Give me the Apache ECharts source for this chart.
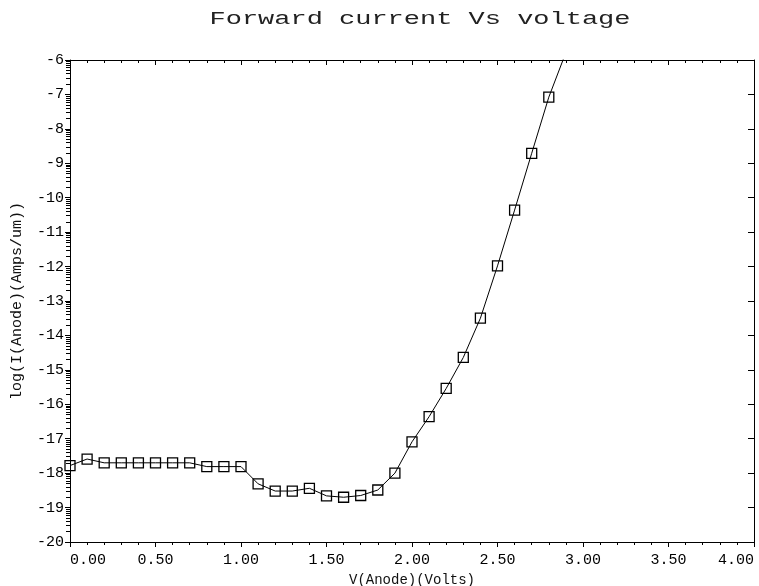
<!DOCTYPE html>
<html>
<head>
<meta charset="utf-8">
<script src="https://cdn.jsdelivr.net/npm/echarts@6/dist/echarts.min.js"></script>
<style>html,body{margin:0;padding:0;background:#fff;}#c{width:759px;height:586px;}</style>
</head>
<body>
<div id="c"></div>
<script>
// Data
const voltage = [0.0, 0.1, 0.2, 0.3, 0.4, 0.5, 0.6, 0.7, 0.8, 0.9,
                 1.0, 1.1, 1.2, 1.3, 1.4, 1.5, 1.6, 1.7, 1.8, 1.9,
                 2.0, 2.1, 2.2, 2.3, 2.4, 2.5, 2.6, 2.7, 2.8, 2.9];
const logCurrent = [-17.78, -17.59, -17.70, -17.70, -17.70, -17.70, -17.70, -17.70, -17.81, -17.81,
                    -17.81, -18.31, -18.52, -18.52, -18.44, -18.66, -18.70, -18.65, -18.49, -18.00,
                    -17.09, -16.36, -15.54, -14.64, -13.50, -11.98, -10.36, -8.71, -7.08, -5.78];
const titleText = 'Forward current Vs voltage';
const xName = 'V(Anode)(Volts)';
const yName = 'log(I(Anode)(Amps/um))';
const xMin = 0, xMax = 4, xStep = 0.5;
const yMin = -20, yMax = -6, yStep = 1;

const FONT = '"Liberation Mono", "DejaVu Sans Mono", monospace';

// log-style minor tick positions inside each decade
const logMinor = [];
for (let n = yMin; n < yMax; n++) {
  for (let k = 2; k <= 9; k++) logMinor.push(n + Math.log10(k));
}

const seriesData = voltage.map((v, i) => [v, logCurrent[i]]);

const chart = echarts.init(document.getElementById('c'), null, {renderer: 'canvas'});
const tickStyle = {color: '#000', width: 1};
const option = {
  backgroundColor: '#fff',
  animation: false,
  graphic: [{
    type: 'text',
    x: 420, y: 19,
    scaleX: 1.42,
    style: {
      text: titleText, x: 0, y: 0,
      align: 'center', verticalAlign: 'middle',
      font: 'normal 19px ' + FONT,
      fill: '#222'
    }
  }],
  grid: {left: 70, right: 5, top: 60, bottom: 44, containLabel: false, outerBoundsMode: 'none'},
  xAxis: [{
    type: 'value', position: 'bottom',
    min: xMin, max: xMax, interval: xStep,
    name: xName, nameLocation: 'middle', nameGap: 28,
    nameTextStyle: {fontFamily: FONT, fontSize: 14, color: '#111'},
    axisLine: {show: true, lineStyle: {color: '#000', width: 1}},
    axisTick: {show: true, inside: false, length: 5, lineStyle: tickStyle},
    minorTick: {show: true, splitNumber: 5, length: 3, lineStyle: tickStyle},
    axisLabel: {
      fontFamily: FONT, fontSize: 15, color: '#000', margin: 11,
      alignMinLabel: 'left', alignMaxLabel: 'right',
      formatter: v => v.toFixed(2)
    },
    splitLine: {show: false}
  }, {
    type: 'value', position: 'top',
    min: xMin, max: xMax, interval: xStep,
    axisLine: {show: true, lineStyle: {color: '#000', width: 1}},
    axisTick: {show: true, inside: true, length: 5, lineStyle: tickStyle},
    minorTick: {show: true, splitNumber: 5, length: 3, lineStyle: tickStyle},
    axisLabel: {show: false},
    splitLine: {show: false}
  }],
  yAxis: [{
    type: 'value', position: 'left',
    min: yMin, max: yMax, interval: yStep,
    name: yName, nameLocation: 'middle', nameGap: 45, nameRotate: 90,
    nameTextStyle: {fontFamily: FONT, fontSize: 15, color: '#111'},
    axisLine: {show: true, onZero: false, lineStyle: {color: '#000', width: 1}},
    axisTick: {show: true, inside: false, length: 5, lineStyle: tickStyle},
    axisLabel: {fontFamily: FONT, fontSize: 15, color: '#000', margin: 6,
      formatter: v => String(Math.round(v))},
    splitLine: {show: false}
  }, {
    type: 'value', position: 'right',
    min: yMin, max: yMax, interval: yStep,
    axisLine: {show: true, onZero: false, lineStyle: {color: '#000', width: 1}},
    axisTick: {show: true, inside: true, length: 6, lineStyle: tickStyle},
    axisLabel: {show: false},
    splitLine: {show: false}
  }, {
    type: 'value', position: 'left',
    min: yMin, max: yMax,
    axisLine: {show: false},
    axisTick: {show: true, inside: false, length: 3, customValues: logMinor, lineStyle: tickStyle},
    axisLabel: {show: false},
    splitLine: {show: false}
  }, {
    type: 'value', position: 'right',
    min: yMin, max: yMax,
    axisLine: {show: false},
    axisTick: {show: true, inside: true, length: 4, customValues: logMinor, lineStyle: tickStyle},
    axisLabel: {show: false},
    splitLine: {show: false}
  }],
  series: [{
    type: 'line',
    xAxisIndex: 0, yAxisIndex: 0,
    data: seriesData,
    clip: true,
    smooth: false,
    symbol: 'rect',
    symbolSize: 10,
    showAllSymbol: true,
    lineStyle: {color: '#000', width: 1},
    itemStyle: {color: 'rgba(0,0,0,0)', borderColor: '#000', borderWidth: 1.3},
    emphasis: {disabled: true}
  }]
};
chart.setOption(option);
</script>
</body>
</html>
